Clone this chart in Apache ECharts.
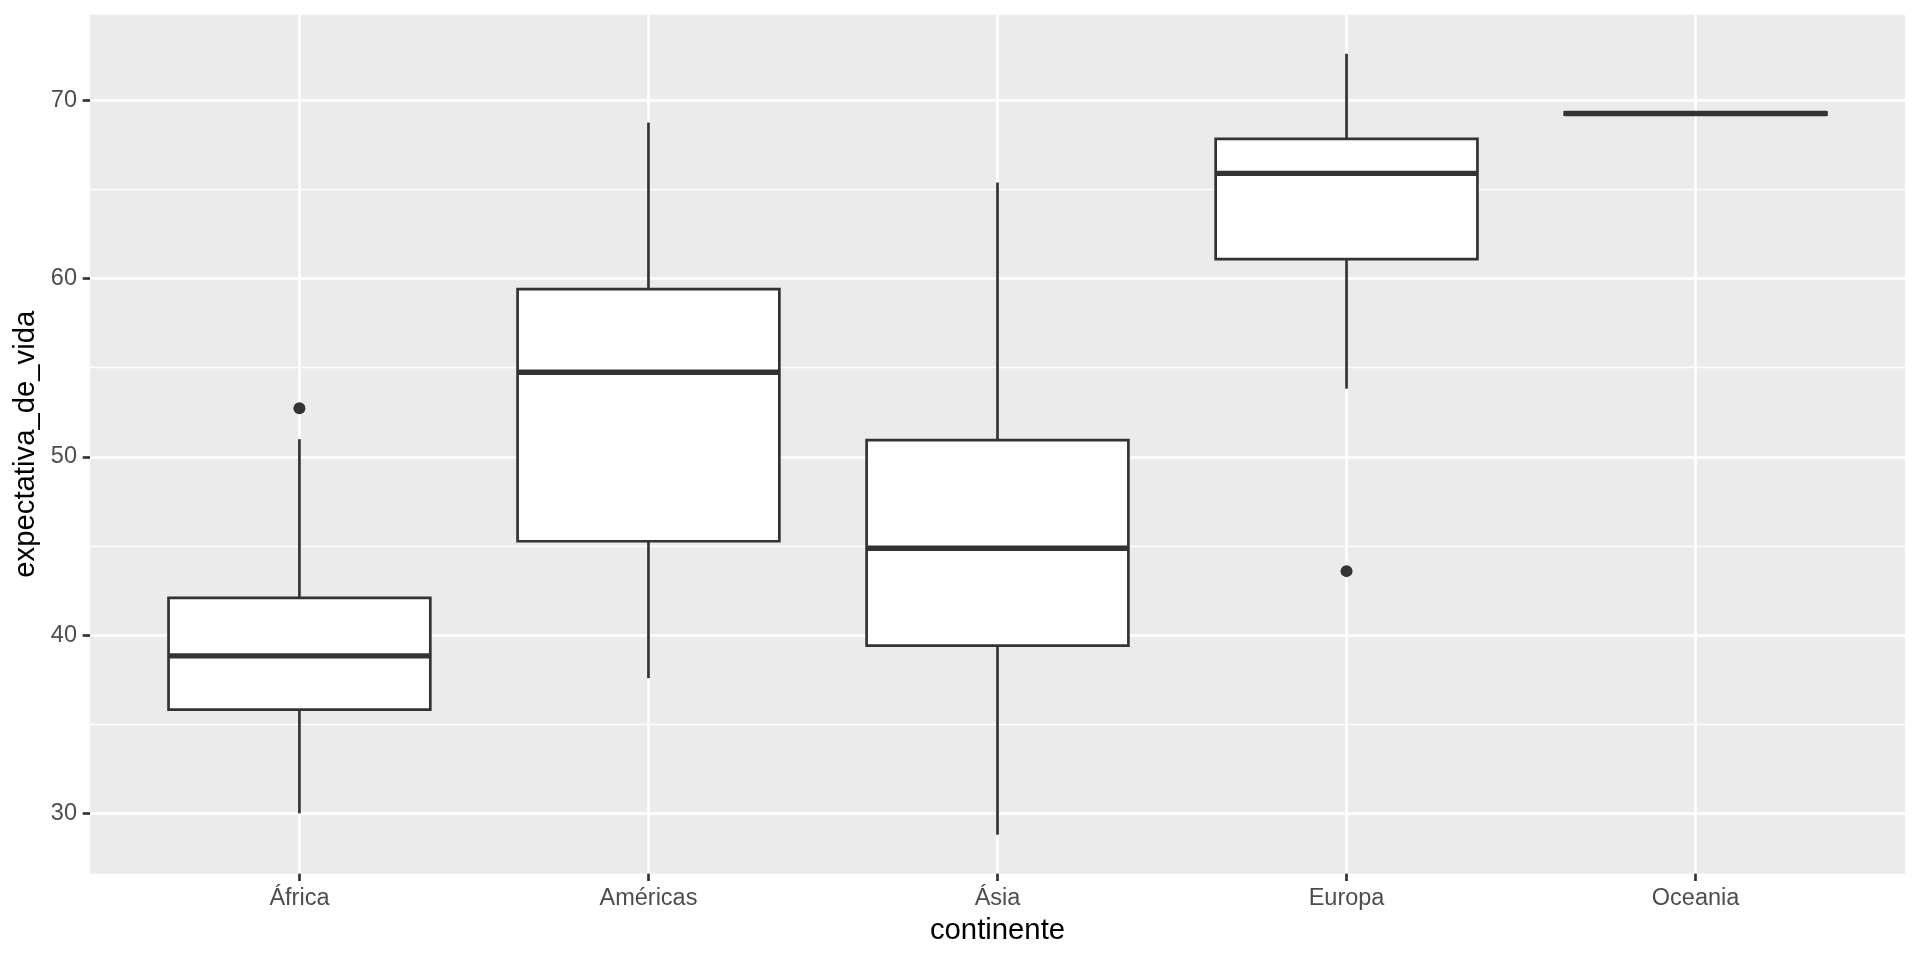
<!DOCTYPE html>
<html><head><meta charset="utf-8">
<script src="https://cdn.jsdelivr.net/npm/echarts@6/dist/echarts.min.js"></script>
<style>html,body{margin:0;padding:0;background:#fff}#c{width:1920px;height:960px}</style>
</head><body><div id="c"></div>
<script>
// ---- data (life expectancy by continent) ----
const categories = ['África', 'Américas', 'Ásia', 'Europa', 'Oceania'];
const lowerWhisker = [30.000, 37.579, 28.801, 53.820, 69.120];
const q1 = [35.812, 45.262, 39.410, 61.085, 69.188];
const median = [38.833, 54.745, 44.869, 65.900, 69.255];
const q3 = [42.081, 59.410, 50.930, 67.830, 69.323];
const upperWhisker = [50.986, 68.750, 65.390, 72.610, 69.390];
const outlierCategory = [0, 3];
const outlierValue = [52.724, 43.585];
const yTicks = [30, 40, 50, 60, 70];
const xTicks = [0, 1, 2, 3, 4];

// ---- layout helpers ----
const dMin = Math.min(...lowerWhisker, ...outlierValue);
const dMax = Math.max(...upperWhisker, ...outlierValue);
const pad = (dMax - dMin) * 0.05;
const yMin = dMin - pad, yMax = dMax + pad;
const boxWidth = 0.75;
const stroke = '#333333';
const LW = 2.7;
const FONT = 'Liberation Sans, Arial, Helvetica, sans-serif';

const boxData = categories.map((c, i) => [i, lowerWhisker[i], q1[i], median[i], q3[i], upperWhisker[i]]);
const outlierData = outlierCategory.map((c, i) => [c, outlierValue[i]]);

function renderBox(params, api) {
  const x = api.value(0);
  const pLW = api.coord([x, api.value(1)]);
  const pQ1 = api.coord([x, api.value(2)]);
  const pM = api.coord([x, api.value(3)]);
  const pQ3 = api.coord([x, api.value(4)]);
  const pUW = api.coord([x, api.value(5)]);
  const half = api.size([boxWidth, 0])[0] / 2;
  const cx = pM[0];
  return {
    type: 'group',
    children: [
      { type: 'line', shape: { x1: cx, y1: pUW[1], x2: cx, y2: pQ3[1] }, style: { stroke: stroke, lineWidth: LW } },
      { type: 'line', shape: { x1: cx, y1: pQ1[1], x2: cx, y2: pLW[1] }, style: { stroke: stroke, lineWidth: LW } },
      { type: 'rect', shape: { x: cx - half, y: pQ3[1], width: 2 * half, height: pQ1[1] - pQ3[1] }, style: { fill: '#ffffff', stroke: stroke, lineWidth: LW } },
      { type: 'line', shape: { x1: cx - half, y1: pM[1], x2: cx + half, y2: pM[1] }, style: { stroke: stroke, lineWidth: LW * 2 } }
    ]
  };
}

const chart = echarts.init(document.getElementById('c'), null, { renderer: 'canvas' });
chart.setOption({
  animation: false,
  backgroundColor: '#ffffff',
  textStyle: { fontFamily: FONT },
  grid: {
    left: 90, right: 15, top: 14.7, bottom: 86.3,
    show: true, backgroundColor: '#EBEBEB', borderWidth: 0, containLabel: false
  },
  xAxis: {
    type: 'value',
    min: -0.6, max: 4.6,
    minInterval: 1, maxInterval: 1,
    name: 'continente',
    nameLocation: 'middle',
    nameGap: 42.5,
    nameTextStyle: { fontSize: 29.3, color: '#000000', fontFamily: FONT },
    axisLine: { show: false, onZero: false },
    axisTick: { show: true, length: 7.3, lineStyle: { color: stroke, width: LW }, customValues: xTicks },
    axisLabel: {
      customValues: xTicks,
      formatter: v => categories[Math.round(v)] || '',
      fontSize: 23.5, color: '#4D4D4D', margin: 12.5, fontFamily: FONT
    },
    splitLine: { show: true, showMinLine: true, showMaxLine: true, lineStyle: { color: '#ffffff', width: 2.6 } },
    minorTick: { show: false },
    minorSplitLine: { show: false }
  },
  yAxis: {
    type: 'value',
    min: yMin, max: yMax,
    minInterval: 10, maxInterval: 10,
    name: 'expectativa_de_vida',
    nameLocation: 'middle',
    nameGap: 49,
    nameRotate: 90,
    nameTextStyle: { fontSize: 29.3, color: '#000000', fontFamily: FONT },
    axisLine: { show: false, onZero: false },
    axisTick: { show: true, length: 7.3, lineStyle: { color: stroke, width: LW }, customValues: yTicks },
    axisLabel: {
      customValues: yTicks,
      fontSize: 23.5, color: '#4D4D4D', margin: 13, fontFamily: FONT
    },
    splitLine: { show: true, showMinLine: true, showMaxLine: true, lineStyle: { color: '#ffffff', width: 2.6 } },
    minorTick: { show: false, splitNumber: 2 },
    minorSplitLine: { show: true, lineStyle: { color: '#ffffff', width: 1.3 } }
  },
  series: [
    {
      type: 'custom',
      renderItem: renderBox,
      encode: { x: 0, y: [1, 2, 3, 4, 5] },
      data: boxData,
      z: 3
    },
    {
      type: 'scatter',
      data: outlierData,
      symbol: 'circle',
      symbolSize: 12,
      itemStyle: { color: stroke, opacity: 1 },
      z: 4
    }
  ]
});
</script>
</body></html>
